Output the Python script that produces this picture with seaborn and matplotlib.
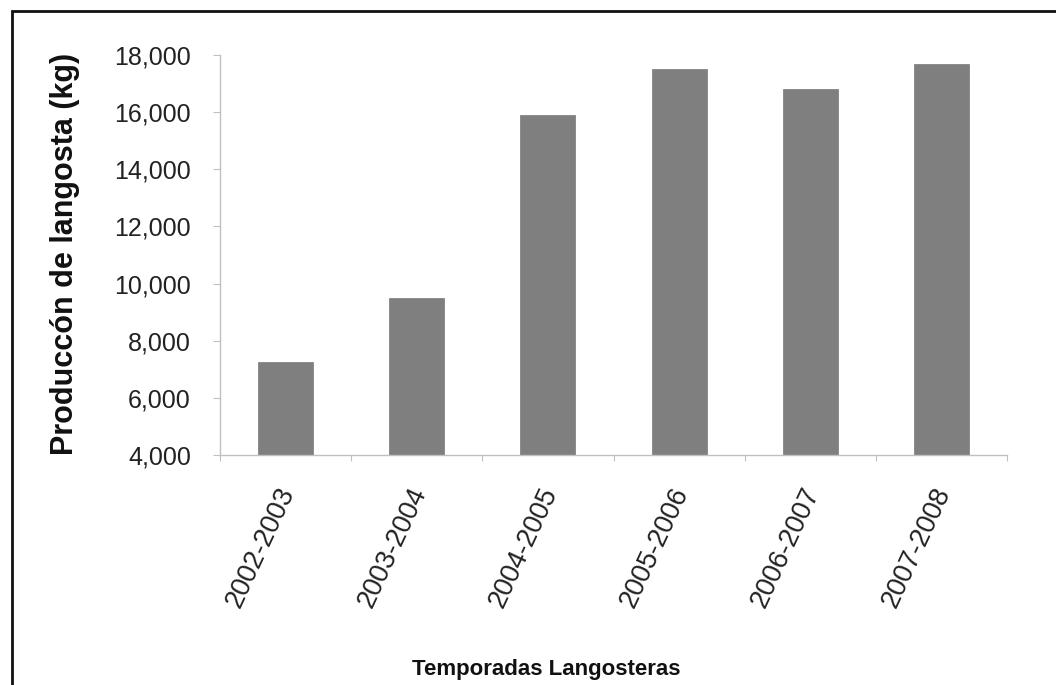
import matplotlib
matplotlib.use("Agg")
import matplotlib.pyplot as plt
import matplotlib.transforms as mtransforms
import seaborn as sns
import pandas as pd
from matplotlib.ticker import FuncFormatter, FixedLocator
from matplotlib.patches import Rectangle

categories = ["2002-2003", "2003-2004", "2004-2005", "2005-2006", "2006-2007", "2007-2008"]
production = [7250, 9500, 15900, 17500, 16800, 17680]
y_ticks = [4000, 6000, 8000, 10000, 12000, 14000, 16000, 18000]

df = pd.DataFrame({"temporada": categories, "produccion": production})

sns.set_theme(style="white")
plt.rcParams['font.family'] = ['Liberation Sans', 'DejaVu Sans']

fig = plt.figure(figsize=(10.56, 6.85), dpi=100)
ax = fig.add_axes([220/1056, 1-455/685, (1007-220)/1056, 400/685])

sns.barplot(data=df, x="temporada", y="produccion", color="#7f7f7f",
            width=0.42, saturation=1, ax=ax, edgecolor="#787878", linewidth=0.5)

ax.set_ylim(4000, 18000)
ax.set_xlim(-0.5, len(categories) - 0.5)
ax.set_yticks(y_ticks)
ax.yaxis.set_major_formatter(FuncFormatter(lambda v, p: f"{int(v):,}"))
ax.tick_params(axis="y", labelsize=18, colors="#222222", length=5, width=0.8,
               color="#c0c0c0", direction="out", left=True, pad=16)
ax.tick_params(axis="x", which="major", length=0, labelsize=19.5, colors="#222222", pad=24)
ax.xaxis.set_minor_locator(FixedLocator([i - 0.5 for i in range(len(categories) + 1)]))
ax.tick_params(axis="x", which="minor", length=4, width=0.8, color="#c0c0c0",
               direction="out", bottom=True)
offset = mtransforms.ScaledTranslation(3/100, 0, fig.dpi_scale_trans)
for lab in ax.get_xticklabels():
    lab.set_rotation(65)
    lab.set_ha("right")
    lab.set_va("center")
    lab.set_rotation_mode("anchor")
    lab.set_transform(lab.get_transform() + offset)

for s in ["top", "right"]:
    ax.spines[s].set_visible(False)
for s in ["left", "bottom"]:
    ax.spines[s].set_color("#c0c0c0")
    ax.spines[s].set_linewidth(1.0)

ax.set_xlabel("")
ax.set_ylabel("")
fig.text(65/1056, 1-254/685, "Produccón de langosta (kg)", rotation=90,
         ha="center", va="center", fontsize=22, fontweight="bold", color="#111111")
fig.text(546/1056, 1-669/685, "Temporadas Langosteras", ha="center", va="center",
         fontsize=16, fontweight="bold", color="#111111")

# outer frame (left and top visible, extends past right/bottom edges)
fig.patches.append(Rectangle((12/1056, -0.05), 1.2, 1 - 11/685 + 0.05,
                             transform=fig.transFigure, fill=False,
                             edgecolor="#111111", linewidth=2.0))

fig.savefig("out.png", dpi=100, facecolor="white")
